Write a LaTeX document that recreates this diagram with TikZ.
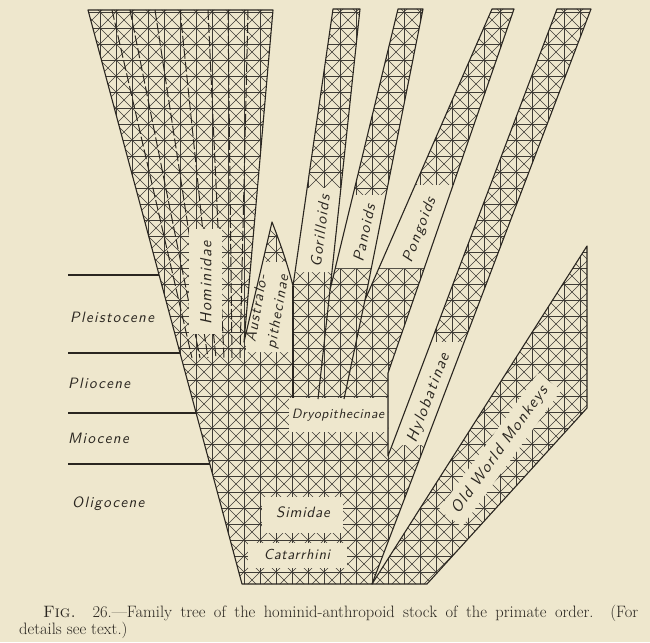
\documentclass[tikz,border=0pt]{standalone}
\usepackage{fontspec}
\usepackage{xcolor}
\usepackage{tikz}
\usetikzlibrary{calc}
\definecolor{paper}{RGB}{238,231,205}
\definecolor{ink}{RGB}{42,38,32}
\newfontfamily\letterfont[LetterSpace=9]{lmsans10-oblique.otf}
\newfontfamily\tightletterfont[LetterSpace=5]{lmsans10-oblique.otf}
\tikzset{
  treeoutline/.style={draw=ink, line width=1.1pt, line join=round},
  hatchline/.style={draw=ink!90, line width=0.4pt},
  fanline/.style={draw=ink, line width=1pt, dash pattern=on 10pt off 3pt},
  epochline/.style={draw=ink, line width=1.1pt},
  epochlabel/.style={font=\letterfont\fontsize{15}{15}\selectfont, text=ink, anchor=base west, inner sep=0pt},
  taxonlabel/.style={font=\letterfont\fontsize{15.5}{20}\selectfont, text=ink, inner sep=0pt, align=center},
  clearbox/.style={fill=paper, draw=none},
  captiontext/.style={font=\fontsize{16.5}{18}\selectfont, text=ink, anchor=base west, inner sep=0pt},
}
\newcommand{\trunkoutline}{(88,10) -- (273,10) -- (244,342) -- (272,222) .. controls (279,240) and (287,262) .. (293,286) -- (333,9) -- (360,9) -- (330,290) -- (398,9) -- (423,9) -- (365,300) -- (492,9) -- (514,9) -- (388,373) -- (388,456) -- (557,9) -- (591,9) -- (372,584) -- (242,584) -- cycle}
\newcommand{\monkeyoutline}{(372,584) -- (587,246) -- (587,408) -- (427,584) -- cycle}
\begin{document}
\begin{tikzpicture}[x=1pt,y=-1pt]
	\fill[paper] (0,0) rectangle (650,642);
	\useasboundingbox (0,0) rectangle (650,642);

		% Crosshatched stock and branches
		\begin{scope}
			\clip \trunkoutline \monkeyoutline;
			\begin{scope}[shift={(4,12)}]
				\foreach \gx in {0,16,...,624} \draw[hatchline] (\gx,-16) -- (\gx,592);
				\foreach \gy in {-16,0,...,592} \draw[hatchline] (0,\gy) -- (640,\gy);
				\foreach \gk in {-640,-624,...,640} \draw[hatchline] (\gk,-16) -- ++(624,624);
				\foreach \gk in {0,16,...,1280} \draw[hatchline] (\gk,-16) -- ++(-624,624);
			\end{scope}
			% Fan of dashed lines in the hominid funnel
			\foreach \top/\foot in {112/192,130/200,155/208,180/216,208/224,228/232,248/240}
				\draw[fanline] (\top,10) -- (\foot,358);
		\end{scope}

		% Clear label fields
		\fill[clearbox] (189,229) rectangle (222,334);
		\fill[clearbox] (262.7,262) -- (289,262) -- (293,286) -- (293,352) -- (246,352) -- (246,334) -- cycle;
		\fill[clearbox] (307,188) -- (340.9,188) -- (332,272) -- (294.7,272) -- cycle;
		\fill[clearbox] (353,195) -- (385.7,195) -- (371.1,268) -- (335.3,268) -- cycle;
		\fill[clearbox] (415.3,185) -- (453.1,185) -- (424.4,268) -- (379.1,268) -- cycle;
		\fill[clearbox] (431.1,342) -- (464.1,342) -- (424.9,445) -- (392.2,445) -- cycle;
		\fill[clearbox] (289,398) rectangle (388,432);
		\fill[clearbox] (262,497) rectangle (343,533);
		\fill[clearbox] (248,543) rectangle (347,568);

		% Outlines
		\draw[treeoutline] \trunkoutline;
		\draw[treeoutline] \monkeyoutline;
		\draw[treeoutline] (330,290) -- (318,399);
		\draw[treeoutline] (365,300) -- (344,399);
		\draw[treeoutline] (293,286) -- (293,398);

	% Epochs
		\draw[epochline] (68,275) -- (159,275);
		\draw[epochline] (68,353) -- (180,353);
		\draw[epochline] (68,413) -- (196,413);
		\draw[epochline] (68,464) -- (210,464);
		\node[epochlabel] (pleistocene) at (70,322) {Pleistocene};
		\node[epochlabel] (pliocene) at (68,388) {Pliocene};
		\node[epochlabel] (miocene) at (68,443) {Miocene};
		\node[epochlabel] (oligocene) at (72,507) {Oligocene};

	% Taxa
		\node[taxonlabel, rotate=90, font=\letterfont\fontsize{16}{20}\selectfont] (hominidae) at (206,283) {Hominidae};
		\node[taxonlabel, rotate=80, font=\letterfont\fontsize{15}{21}\selectfont] (australo) at (268,310) {Australo-\\pithecinae};
		\node[taxonlabel, rotate=83] (gorilloids) at (320,231) {Gorilloids};
		\node[taxonlabel, rotate=78] (panoids) at (364,233) {Panoids};
		\node[taxonlabel, rotate=69] (pongoids) at (420,230) {Pongoids};
		\node[taxonlabel, rotate=69, font=\letterfont\fontsize{16}{20}\selectfont] (hylobatinae) at (429,398) {Hylobatinae};
		\node[taxonlabel, rotate=54, font=\letterfont\fontsize{16}{20}\selectfont, fill=paper, inner xsep=8pt, inner ysep=7pt] (oldworld) at (500,450) {Old World Monkeys};
		\node[taxonlabel, font=\tightletterfont\fontsize{13.5}{20}\selectfont] (dryopithecinae) at (338,415) {Dryopithecinae};
		\node[taxonlabel, font=\tightletterfont\fontsize{15}{20}\selectfont] (simidae) at (303,512) {Simidae};
		\node[taxonlabel, font=\tightletterfont\fontsize{14.5}{20}\selectfont] (catarrhini) at (297,554) {Catarrhini};

	% Caption
		\node[captiontext] (captionone) at (43,617) {\makebox[595pt][s]{\textsc{Fig.} 26.---Family tree of the hominid-anthropoid stock of the primate order. (For}};
		\node[captiontext] (captiontwo) at (19,634) {details see text.)};
\end{tikzpicture}
\end{document}
